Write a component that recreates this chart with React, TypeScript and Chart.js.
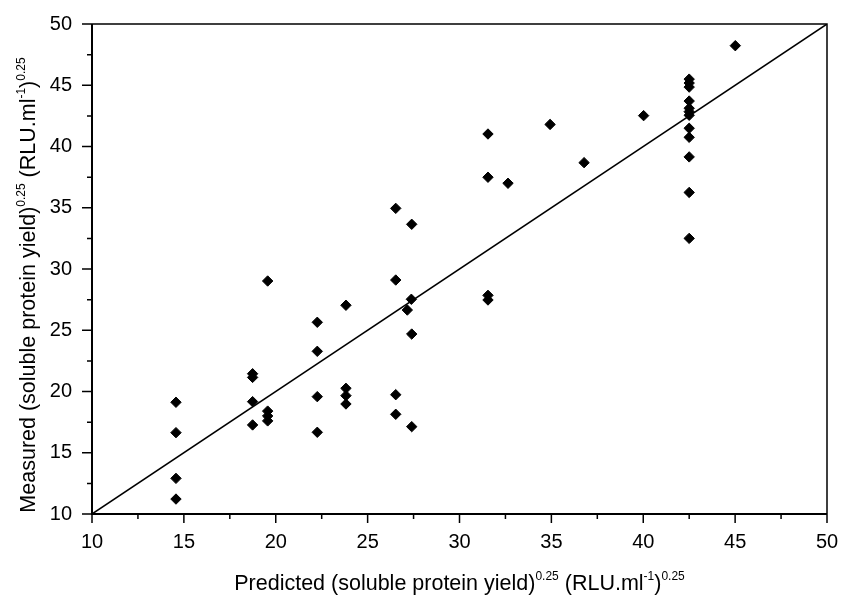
import React, { useEffect, useRef } from "react";
import { Chart, registerables } from "chart.js";

Chart.register(...registerables);

// Predicted (x) and measured (y) values
const predicted = [
  14.57, 14.57, 14.57, 14.57,
  18.74, 18.74, 18.74, 18.74,
  19.56, 19.56, 19.56, 19.56,
  22.26, 22.26, 22.26, 22.26,
  23.82, 23.82, 23.82, 23.82,
  26.53, 26.53, 26.53, 26.53,
  27.16, 27.40, 27.38, 27.40, 27.40,
  31.55, 31.55, 31.55, 31.55,
  32.64, 34.93, 36.78, 40.02,
  42.50, 42.50, 42.50, 42.50, 42.50, 42.50, 42.50, 42.50, 42.50, 42.50, 42.50, 42.50,
  45.01,
];
const measured = [
  19.12, 16.64, 12.91, 11.22,
  21.45, 21.15, 19.17, 17.27,
  29.02, 18.40, 18.00, 17.60,
  25.65, 23.28, 19.58, 16.67,
  27.04, 20.26, 19.66, 18.98,
  34.95, 29.10, 19.74, 18.14,
  26.65, 33.65, 27.53, 24.69, 17.13,
  41.02, 37.49, 27.85, 27.47,
  37.00, 41.80, 38.68, 42.52,
  45.50, 45.18, 44.85, 43.71, 43.12, 42.84, 42.55, 41.49, 40.75, 39.15, 36.25, 32.50,
  48.23,
];

// 1:1 line
const lineX = [10, 50];
const lineY = [10, 50];

// Axis ticks
const majorTicks = [10, 15, 20, 25, 30, 35, 40, 45, 50];
const minorTicks = [12.5, 17.5, 22.5, 27.5, 32.5, 37.5, 42.5, 47.5];

const FONT = "Arial, 'Liberation Sans', sans-serif";

type Part = { t: string; sup?: boolean };
const xTitle: Part[] = [
  { t: "Predicted (soluble protein yield)" },
  { t: "0.25", sup: true },
  { t: " (RLU.ml" },
  { t: "-1", sup: true },
  { t: ")" },
  { t: "0.25", sup: true },
];
const yTitle: Part[] = [
  { t: "Measured (soluble protein yield)" },
  { t: "0.25", sup: true },
  { t: " (RLU.ml" },
  { t: "-1", sup: true },
  { t: ")" },
  { t: "0.25", sup: true },
];

function drawRich(ctx: CanvasRenderingContext2D, parts: Part[], cx: number, baseY: number) {
  const mainFont = `21.5px ${FONT}`;
  const supFont = `12px ${FONT}`;
  let total = 0;
  const widths = parts.map((p) => {
    ctx.font = p.sup ? supFont : mainFont;
    const w = ctx.measureText(p.t).width;
    total += w;
    return w;
  });
  let x = cx - total / 2;
  ctx.textAlign = "left";
  ctx.textBaseline = "alphabetic";
  parts.forEach((p, i) => {
    ctx.font = p.sup ? supFont : mainFont;
    ctx.fillText(p.t, x, p.sup ? baseY - 10.5 : baseY);
    x += widths[i];
  });
}

const framePlugin = {
  id: "frame",
  afterDraw(chart: any) {
    const { ctx, chartArea: a, scales } = chart;
    const xs = scales.x;
    const ys = scales.y;
    ctx.save();
    ctx.strokeStyle = "#000";
    ctx.fillStyle = "#000";
    // frame
    ctx.lineWidth = 1.5;
    ctx.beginPath();
    ctx.moveTo(a.left, a.top);
    ctx.lineTo(a.right, a.top);
    ctx.lineTo(a.right, a.bottom);
    ctx.stroke();
    ctx.lineWidth = 2;
    ctx.beginPath();
    ctx.moveTo(a.left, a.top);
    ctx.lineTo(a.left, a.bottom);
    ctx.lineTo(a.right, a.bottom);
    ctx.stroke();
    // ticks
    ctx.lineWidth = 1.5;
    ctx.beginPath();
    majorTicks.forEach((v) => {
      const px = xs.getPixelForValue(v);
      ctx.moveTo(px, a.bottom);
      ctx.lineTo(px, a.bottom + 9);
      const py = ys.getPixelForValue(v);
      ctx.moveTo(a.left, py);
      ctx.lineTo(a.left - 10, py);
    });
    minorTicks.forEach((v) => {
      const px = xs.getPixelForValue(v);
      ctx.moveTo(px, a.bottom);
      ctx.lineTo(px, a.bottom + 5);
      const py = ys.getPixelForValue(v);
      ctx.moveTo(a.left, py);
      ctx.lineTo(a.left - 5, py);
    });
    ctx.stroke();
    // titles
    drawRich(ctx, xTitle, (a.left + a.right) / 2, 590);
    ctx.translate(35, 285);
    ctx.rotate(-Math.PI / 2);
    drawRich(ctx, yTitle, 0, 0);
    ctx.restore();
  },
};

const zeroPad = (s: any) => {
  s.paddingTop = 0;
  s.paddingBottom = 0;
  s.paddingLeft = 0;
  s.paddingRight = 0;
};

export default function App() {
  const ref = useRef<HTMLCanvasElement>(null);
  useEffect(() => {
    document.body.style.margin = "0";
    const points = predicted.map((x, i) => ({ x, y: measured[i] }));
    const line = lineX.map((x, i) => ({ x, y: lineY[i] }));
    const chart = new Chart(ref.current!, {
      type: "scatter",
      data: {
        datasets: [
          {
            type: "scatter",
            data: points,
            pointStyle: "rectRot",
            pointRadius: 5.2,
            borderWidth: 1,
            backgroundColor: "#000",
            borderColor: "#000",
          },
          {
            type: "line",
            data: line,
            borderColor: "#000",
            borderWidth: 1.5,
            pointRadius: 0,
            fill: false,
          } as any,
        ],
      },
      options: {
        animation: false,
        responsive: false,
        layout: { padding: { left: 0, top: 24, right: 14, bottom: 0 } },
        plugins: { legend: { display: false }, tooltip: { enabled: false } },
        scales: {
          x: {
            type: "linear",
            min: 10,
            max: 50,
            afterFit: (s: any) => {
              s.height = 82;
              zeroPad(s);
            },
            afterBuildTicks: (s: any) => {
              s.ticks = majorTicks.map((v) => ({ value: v }));
            },
            grid: { display: false, drawTicks: false },
            border: { display: false },
            ticks: { color: "#000", font: { family: FONT, size: 20 }, padding: 16, maxRotation: 0 },
          },
          y: {
            type: "linear",
            min: 10,
            max: 50,
            afterFit: (s: any) => {
              s.width = 92;
              zeroPad(s);
            },
            afterBuildTicks: (s: any) => {
              s.ticks = majorTicks.map((v) => ({ value: v }));
            },
            grid: { display: false, drawTicks: false },
            border: { display: false },
            ticks: { color: "#000", font: { family: FONT, size: 20 }, padding: 20 },
          },
        },
      },
      plugins: [framePlugin],
    });
    return () => chart.destroy();
  }, []);
  return <canvas ref={ref} width={841} height={596} />;
}
